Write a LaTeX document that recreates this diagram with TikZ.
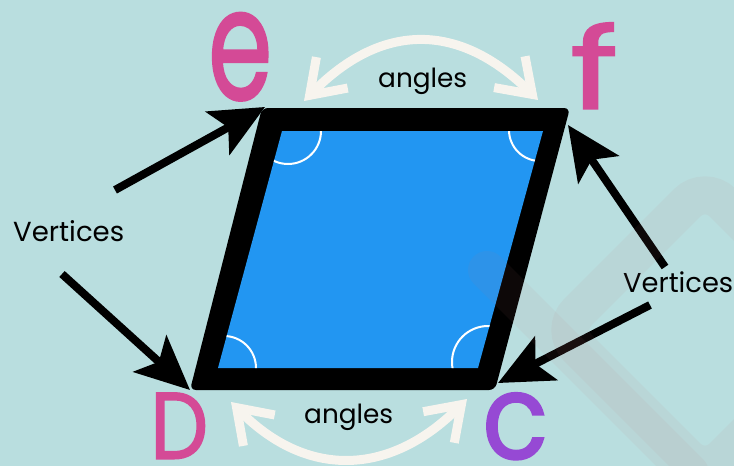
\documentclass[tikz,border=0pt]{standalone}
\usepackage{fontspec}
\usepackage{graphicx}
\setmainfont{Poppins}
\newfontfamily\letterfont[FakeBold=1.5]{Poppins}
\usetikzlibrary{arrows.meta}
\definecolor{bgc}{RGB}{185,222,223}
\definecolor{bluec}{RGB}{34,150,242}
\definecolor{pinkc}{RGB}{212,74,150}
\definecolor{purplec}{RGB}{150,73,212}
\definecolor{whitec}{RGB}{247,244,238}
\definecolor{wmc}{RGB}{190,120,120}
\tikzset{
  blkarrow/.style={line width=8pt, -{Stealth[length=54pt,width=49pt,inset=12pt]}},
  whtarrow/.style={draw=whitec, line width=9pt, {Straight Barb[length=32pt,width=44pt]}-{Straight Barb[length=32pt,width=44pt]}},
  lab/.style={inner sep=0pt, text=black},
  letter/.style={inner sep=3pt, anchor=south west},
  anglearc/.style={draw=white, line width=2pt},
  wm/.style={draw=wmc, draw opacity=0.07}
}
\begin{document}
\begin{tikzpicture}[x=1pt,y=-1pt]
\useasboundingbox (0,0) rectangle (734,466);
\fill[bgc] (0,0) rectangle (734,466);
% parallelogram
\fill[black, rounded corners=6pt] (262,108) -- (570,108) -- (495,390) -- (190,390) -- cycle;
\fill[bluec] (282,131) coordinate (itl) -- (543,131) coordinate (itr) -- (478,368) coordinate (ibr) -- (218,368) coordinate (ibl) -- cycle;
\begin{scope}
\clip (itl) -- (itr) -- (ibr) -- (ibl) -- cycle;
\draw[anglearc] (288,131) circle (33pt);
\draw[anglearc] (540,130) circle (31pt);
\draw[anglearc] (224,368) circle (32pt);
\draw[anglearc] (488,362) circle (36pt);
\end{scope}
% letters
\node[letter, text=pinkc] (e) at (205,104) {\resizebox*{64pt}{88pt}{\letterfont e}};
\node[letter, text=pinkc] (f) at (567,112) {\resizebox*{48pt}{86pt}{\letterfont f}};
\node[letter, text=pinkc] (D) at (147,462) {\resizebox*{58pt}{66pt}{\letterfont D}};
\node[letter, text=purplec] (c) at (479,463) {\resizebox*{66pt}{67pt}{\letterfont c}};
% labels
\node[lab, anchor=base west] (vl) at (13,241) {\resizebox{111pt}{!}{Vertices}};
\node[lab, anchor=base west] (vr) at (623,292) {\resizebox{110pt}{!}{Vertices}};
\node[lab, anchor=base west] (at) at (378,87) {\resizebox{89pt}{!}{angles}};
\node[lab, anchor=base west] (ab) at (304,423) {\resizebox{89pt}{!}{angles}};
% black arrows
\coordinate (a1s) at (115,190); \coordinate (a1e) at (265,107);
\coordinate (a2s) at (62,274);  \coordinate (a2e) at (190,390);
\coordinate (a3s) at (665,267); \coordinate (a3e) at (568,125);
\coordinate (a4s) at (650,305); \coordinate (a4e) at (498,383);
\draw[blkarrow] (a1s) -- (a1e);
\draw[blkarrow] (a2s) -- (a2e);
\draw[blkarrow] (a3s) -- (a3e);
\draw[blkarrow] (a4s) -- (a4e);
% white double arrows
\coordinate (wt1) at (304,101); \coordinate (wt2) at (538,100);
\coordinate (wb1) at (231,402); \coordinate (wb2) at (467,399);
\draw[whtarrow] (wt1) .. controls (382,22) and (459,22) .. (wt2);
\draw[whtarrow] (wb1) .. controls (307,479) and (390,476) .. (wb2);
% watermark
\draw[wm, line width=38pt, line cap=round] (487,270) -- (690,473);
\draw[wm, line width=38pt, rounded corners=25pt] (560,330) -- (705,185) -- (850,330) -- (705,475) -- cycle;
\end{tikzpicture}
\end{document}
